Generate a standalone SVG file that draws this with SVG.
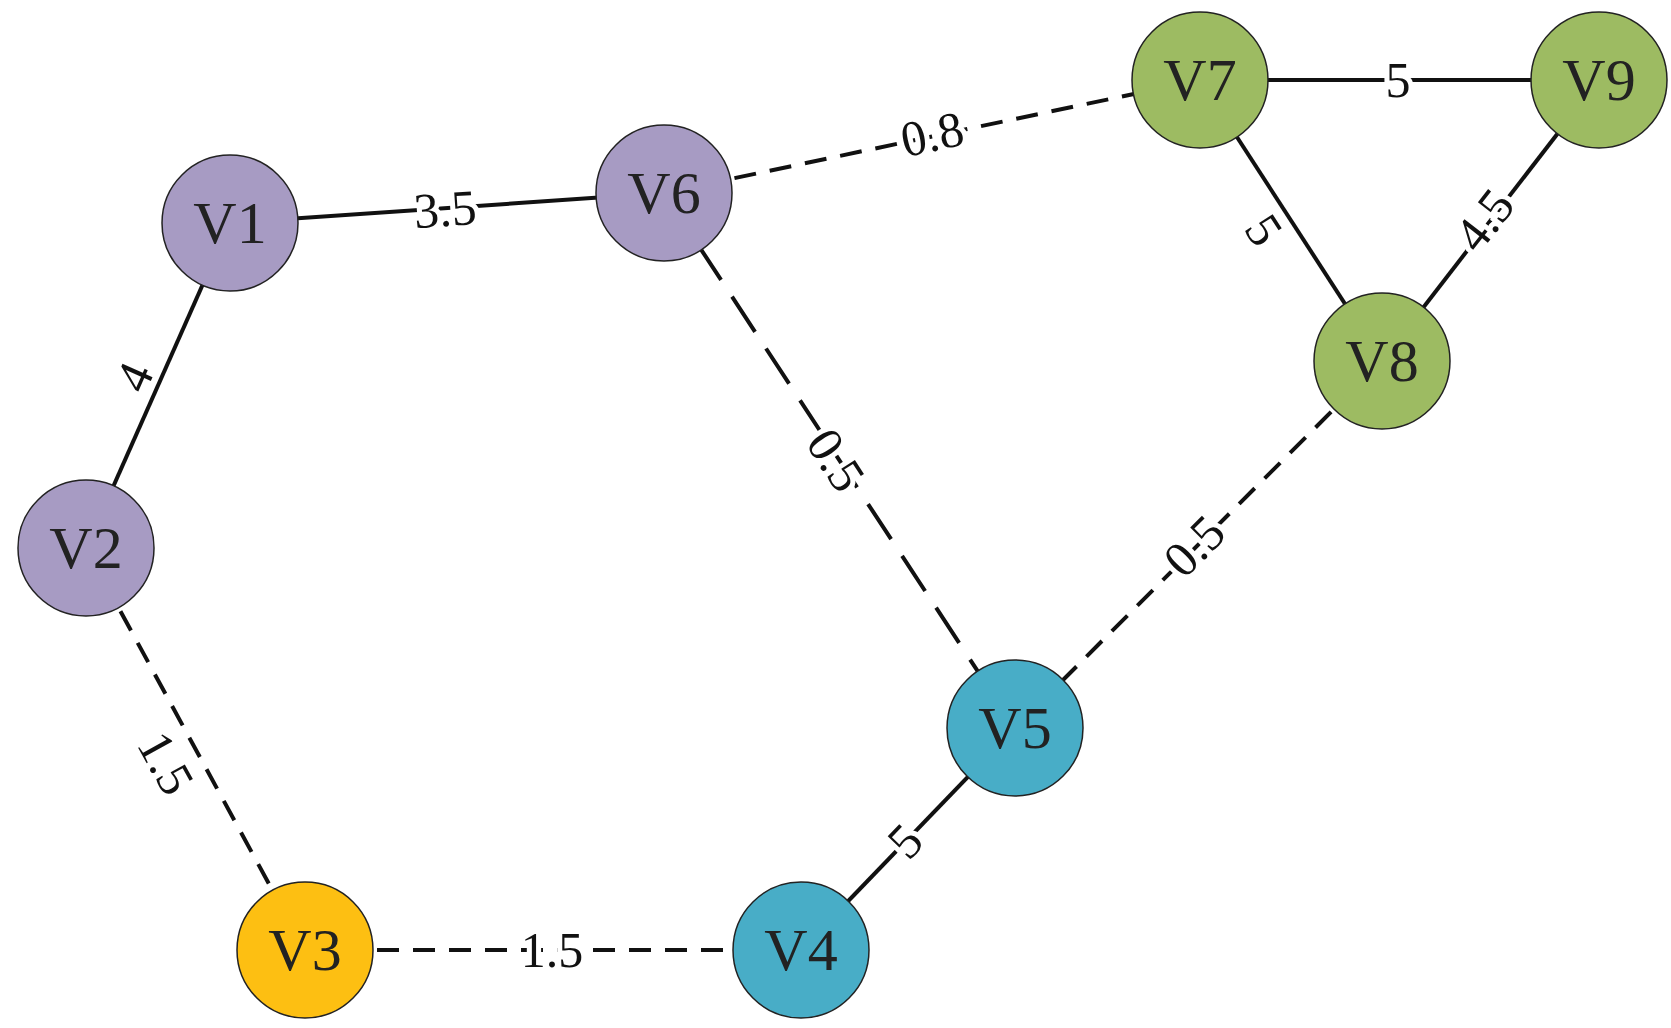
<svg xmlns="http://www.w3.org/2000/svg" width="1671" height="1028" viewBox="0 0 1671 1028">
<style>
.e{stroke:#111;stroke-width:4;fill:none}
.d{stroke-dasharray:22 14}
.dl{stroke-dasharray:42 20}
.n{stroke:#222;stroke-width:1.5}
.t{font-family:"Liberation Serif",serif;font-size:60px;fill:#222;text-anchor:middle;dominant-baseline:central}
.l{font-family:"Liberation Serif",serif;font-size:50px;fill:#111;text-anchor:middle;dominant-baseline:central;stroke:#fff;stroke-width:10;paint-order:stroke}
</style>
<rect width="1671" height="1028" fill="#fff"/>
<g id="connectors">
<line class="e" x1="230" y1="223" x2="664" y2="193"/>
<line class="e d" x1="664" y1="193" x2="1200" y2="80"/>
<line class="e" x1="1200" y1="80" x2="1599" y2="80"/>
<line class="e" x1="1200" y1="80" x2="1382" y2="361"/>
<line class="e" x1="1382" y1="361" x2="1599" y2="80"/>
<line class="e" x1="230" y1="223" x2="86" y2="548"/>
<line class="e dl" x1="664" y1="193" x2="1015" y2="728"/>
<line class="e d" x1="1382" y1="361" x2="1015" y2="728"/>
<line class="e d" x1="86" y1="548" x2="305" y2="950"/>
<line class="e d" x1="305" y1="950" x2="801" y2="950"/>
<line class="e" x1="801" y1="950" x2="1015" y2="728"/>
<g transform="translate(445,209) rotate(-4)"><text class="l">3.5</text></g>
<g transform="translate(932,134) rotate(-12)"><text class="l">0.8</text></g>
<g transform="translate(1398,80)"><text class="l">5</text></g>
<g transform="translate(1264,230) rotate(57)"><text class="l">5</text></g>
<g transform="translate(1484,220) rotate(-52)"><text class="l">4.5</text></g>
<g transform="translate(134,377) rotate(-66)"><text class="l">4</text></g>
<g transform="translate(836,460) rotate(57)"><text class="l">0.5</text></g>
<g transform="translate(1194,546) rotate(-45)"><text class="l">0.5</text></g>
<g transform="translate(166,763) rotate(61)"><text class="l">1.5</text></g>
<g transform="translate(552,950)"><text class="l">1.5</text></g>
<g transform="translate(905,841) rotate(-46)"><text class="l">5</text></g>
</g>
<g id="V1"><circle class="n" cx="230" cy="223" r="68" fill="#a79bc3"/><text class="t" x="230" y="223">V1</text></g>
<g id="V2"><circle class="n" cx="86" cy="548" r="68" fill="#a79bc3"/><text class="t" x="86" y="548">V2</text></g>
<g id="V6"><circle class="n" cx="664" cy="193" r="68" fill="#a79bc3"/><text class="t" x="664" y="193">V6</text></g>
<g id="V7"><circle class="n" cx="1200" cy="80" r="68" fill="#9dbb62"/><text class="t" x="1200" y="80">V7</text></g>
<g id="V9"><circle class="n" cx="1599" cy="80" r="68" fill="#9dbb62"/><text class="t" x="1599" y="80">V9</text></g>
<g id="V8"><circle class="n" cx="1382" cy="361" r="68" fill="#9dbb62"/><text class="t" x="1382" y="361">V8</text></g>
<g id="V5"><circle class="n" cx="1015" cy="728" r="68" fill="#48adc7"/><text class="t" x="1015" y="728">V5</text></g>
<g id="V4"><circle class="n" cx="801" cy="950" r="68" fill="#48adc7"/><text class="t" x="801" y="950">V4</text></g>
<g id="V3"><circle class="n" cx="305" cy="950" r="68" fill="#fdbf12"/><text class="t" x="305" y="950">V3</text></g>
</svg>
